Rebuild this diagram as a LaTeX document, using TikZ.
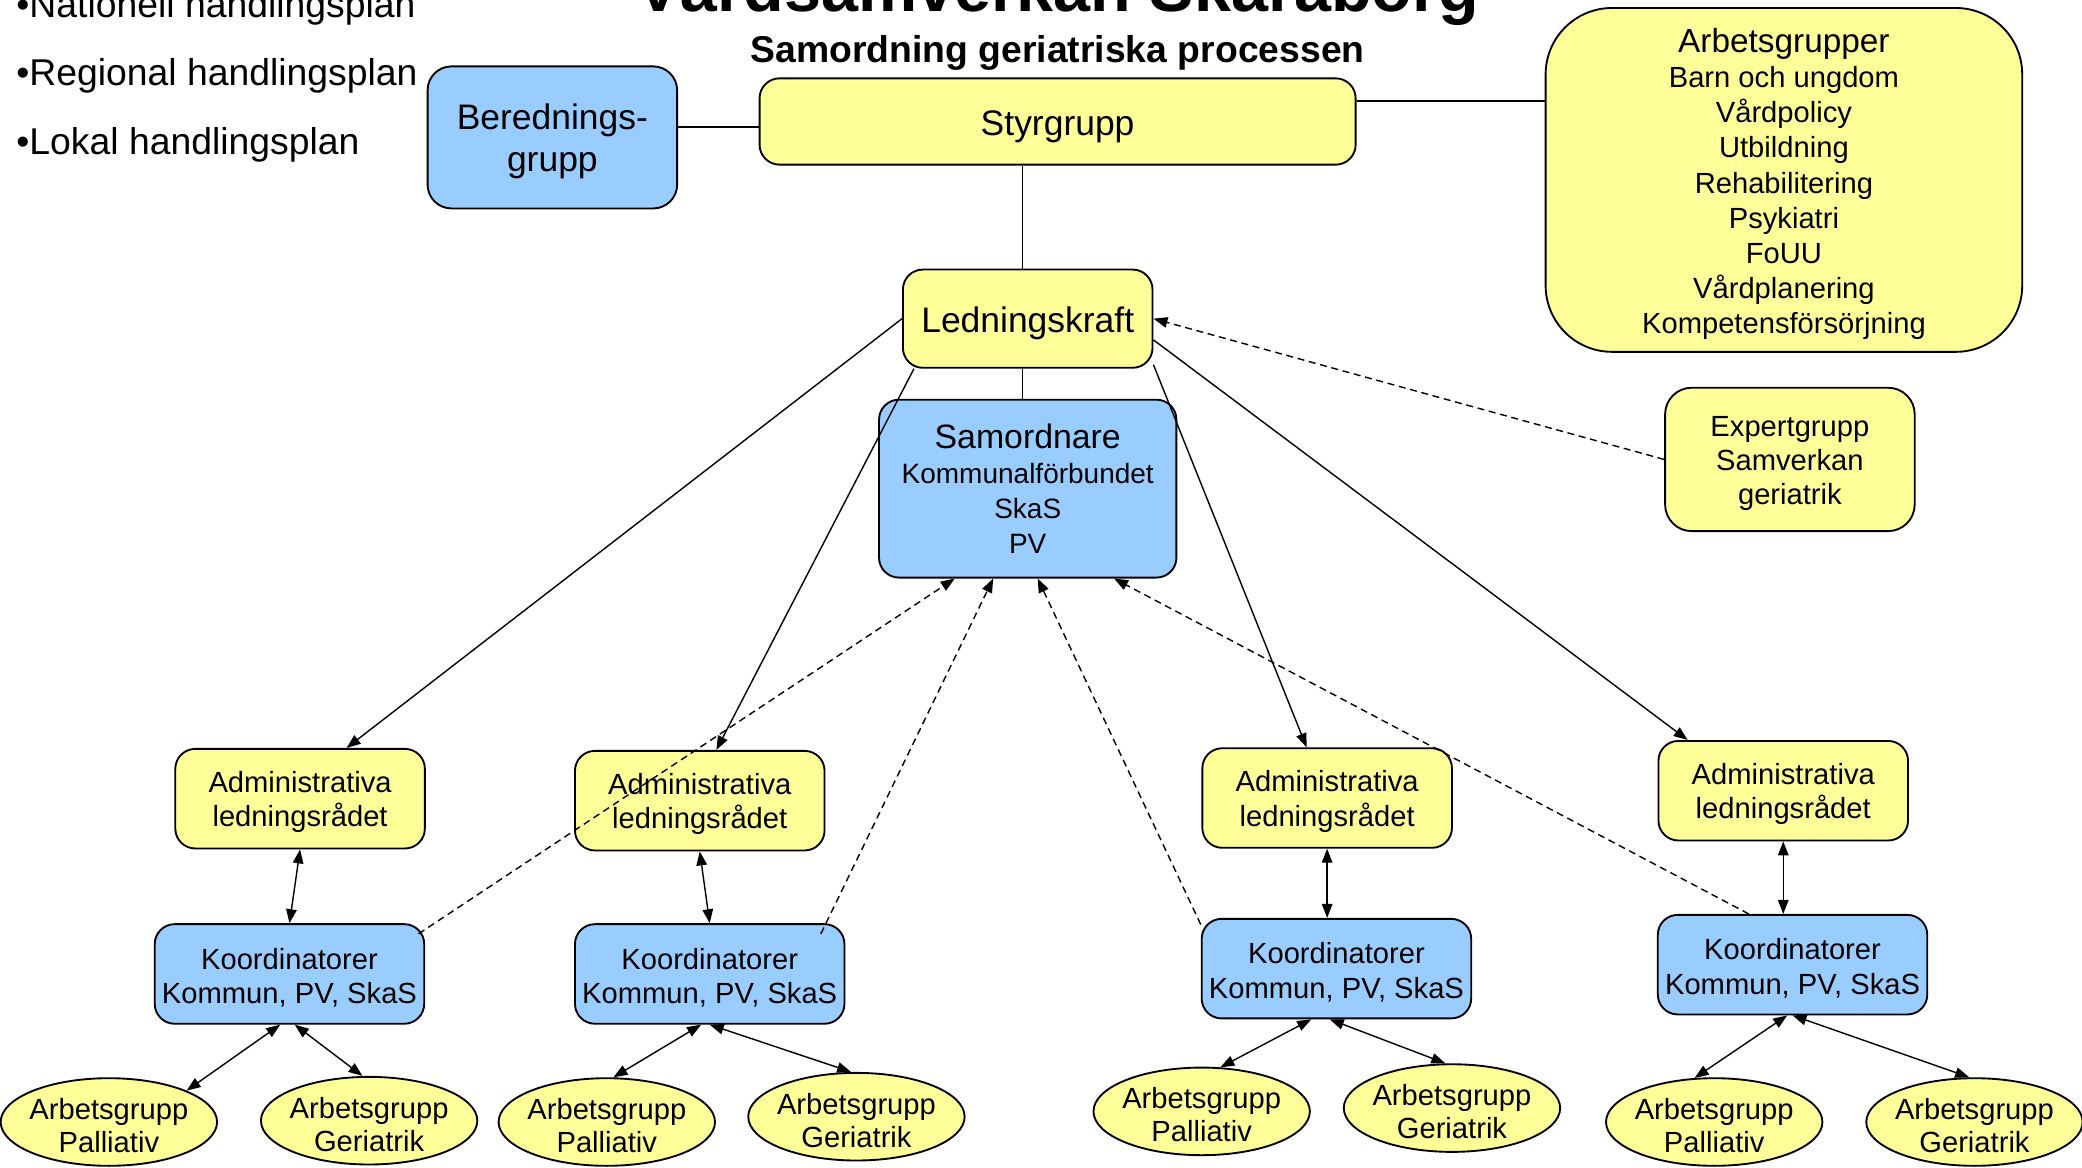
\documentclass[tikz,border=0pt]{standalone}
\usepackage{fontspec}
\setmainfont{Liberation Sans}
\usetikzlibrary{shapes.geometric,arrows.meta}
\definecolor{gul}{HTML}{FFFF99}
\definecolor{bla}{HTML}{99CCFF}
\newcommand{\uppe}{\rule{0pt}{0.97em}}

\begin{document}
\begin{tikzpicture}[x=0.02cm,y=-0.02cm,
    box/.style={draw,rounded corners=0.3cm,line width=0.8pt,align=center,inner sep=0pt,
      font=\fontsize{12.5}{14.7}\selectfont},
    gulbox/.style={box,fill=gul},
    blabox/.style={box,fill=bla},
    adm/.style={gulbox,minimum width=3.76cm,minimum height=1.5cm},
    koo/.style={blabox,minimum width=4.06cm,minimum height=1.5cm},
    grupp/.style={draw,ellipse,fill=gul,line width=0.8pt,minimum width=3.26cm,minimum height=1.32cm,
      inner xsep=-2pt,inner ysep=-1pt,align=center,font=\fontsize{12.5}{14.2}\selectfont},
    link/.style={line width=0.6pt},
    pil/.style={link,-{Triangle[length=6pt,width=4.5pt]}},
    dubbel/.style={link,{Triangle[length=6pt,width=4.5pt]}-{Triangle[length=6pt,width=4.5pt]}},
    streck/.style={pil,dash pattern=on 3pt off 2pt}]
\clip (0,0) rectangle (1568,879);

\node[anchor=base,font=\fontsize{28.5}{30}\selectfont\bfseries] (titel) at (796.5,9) {Vårdsamverkan Skaraborg};
\node[anchor=base,font=\fontsize{16}{18}\selectfont\bfseries] (undertitel) at (796.5,47) {Samordning geriatriska processen};
\foreach \txt [count=\i] in {Nationell,Regional,Lokal}
  \node[anchor=base west,inner sep=0pt,font=\fontsize{16}{18}\selectfont] (plan\i) at (12,{13+51.5*(\i-1)}) {•\txt\ handlingsplan};

\node[blabox,minimum width=3.76cm,minimum height=2.14cm,rounded corners=0.36cm,font=\fontsize{15.2}{18}\selectfont] (bered) at (416,103.5) {\uppe Berednings-\\grupp};
\node[gulbox,minimum width=8.98cm,minimum height=1.3cm,font=\fontsize{15.2}{18}\selectfont] (styr) at (796.5,91.5) {\uppe Styrgrupp};
\node[gulbox,minimum width=7.18cm,minimum height=5.18cm,rounded corners=1cm,font=\fontsize{12.5}{15.1}\selectfont] (arbgr) at (1343.5,135.5)
  {{\fontsize{14.3}{15.1}\selectfont\uppe Arbetsgrupper}\\Barn och ungdom\\Vårdpolicy\\Utbildning\\Rehabilitering\\Psykiatri\\FoUU\\Vårdplanering\\Kompetensförsörjning};
\node[gulbox,minimum width=3.76cm,minimum height=1.48cm,font=\fontsize{15.2}{18}\selectfont] (led) at (774,240) {\uppe Ledningskraft};
\node[blabox,minimum width=4.48cm,minimum height=2.68cm,font=\fontsize{12}{15.1}\selectfont] (samo) at (774,368)
  {{\fontsize{14.5}{15.1}\selectfont Samordnare}\\Kommunalförbundet\\SkaS\\PV};
\node[gulbox,minimum width=3.76cm,minimum height=2.16cm,rounded corners=0.4cm] (expert) at (1348,346) {\uppe Expertgrupp\\Samverkan\\geriatrik};

\foreach \n/\ax/\ay/\kx/\ky in {1/226/601.5/218/733.5,2/527/603/534.5/733.5,3/999.5/601/1006.5/729.5,4/1343/595.5/1350/726.5}{
  \node[adm] (adm\n) at (\ax,\ay) {\uppe Administrativa\\ledningsrådet};
  \node[koo] (koo\n) at (\kx,\ky) {\uppe Koordinatorer\\Kommun, PV, SkaS};
}
\foreach \n/\ex/\ey/\typ in {1/82/845/Palliativ,2/278/844/Geriatrik,3/457/845/Palliativ,4/645/841/Geriatrik,
    5/905/837/Palliativ,6/1093.5/834.5/Geriatrik,7/1291/845/Palliativ,8/1487/845/Geriatrik}
  \node[grupp] (ell\n) at (\ex,\ey) {\uppe Arbetsgrupp\\\typ};

\coordinate (bs) at ([yshift=-0.08cm]styr.west);
\draw[link] (bs) -- (bs -| bered.east);
\coordinate (sa) at ([yshift=0.31cm]styr.east);
\draw[link] (sa) -- (sa -| arbgr.west);
\draw[link] ([xshift=-0.08cm]led.north) -- ([xshift=-0.08cm]led.north |- styr.south);
\draw[link] ([xshift=-0.08cm]led.south) -- ([xshift=-0.08cm]samo.north);

\draw[pil] (led.west) -- ([xshift=0.7cm]adm1.north);
\draw[pil] ([xshift=0.18cm]led.south west) -- ([xshift=0.25cm]adm2.north);
\draw[pil] ([yshift=0.06cm]led.south east) -- ([xshift=-0.31cm]adm3.north);
\draw[pil] ([yshift=-0.32cm]led.east) -- ([xshift=-1.44cm]adm4.north);
\draw[streck] (expert.west) -- (led.east);

\draw[dubbel] (adm1.south) -- (koo1.north);
\draw[dubbel] (adm2.south) -- (koo2.north);
\draw[dubbel] (adm3.south) -- (adm3.south |- koo3.north);
\draw[dubbel] (adm4.south) -- (adm4.south |- koo4.north);

\draw[streck] ([xshift=-0.1cm,yshift=-0.16cm]koo1.north east) -- ([xshift=-1.1cm]samo.south);
\draw[streck] ([xshift=-0.37cm,yshift=-0.16cm]koo2.north east) -- ([xshift=-0.52cm]samo.south);
\draw[streck] ([yshift=-0.1cm]koo3.north west) -- ([xshift=0.15cm]samo.south);
\draw[streck] ([xshift=-0.66cm]koo4.north) -- ([xshift=1.3cm]samo.south);

\draw[dubbel] ([xshift=-0.14cm]koo1.south) -- (ell1.22);
\draw[dubbel] ([xshift=0.08cm]koo1.south) -- ([xshift=-0.1cm]ell2.north);
\draw[dubbel] ([xshift=-0.13cm]koo2.south) -- ([xshift=0.1cm]ell3.north);
\draw[dubbel] (koo2.south) -- ([xshift=-0.08cm]ell4.north);
\draw[dubbel] ([xshift=-0.38cm]koo3.south) -- (ell5.67);
\draw[dubbel] ([xshift=-0.1cm]koo3.south) -- ([xshift=-0.1cm]ell6.north);
\draw[dubbel] ([xshift=-0.08cm]koo4.south) -- (ell7.114);
\draw[dubbel] (koo4.south) -- ([xshift=-0.08cm]ell8.north);
\end{tikzpicture}
\end{document}
